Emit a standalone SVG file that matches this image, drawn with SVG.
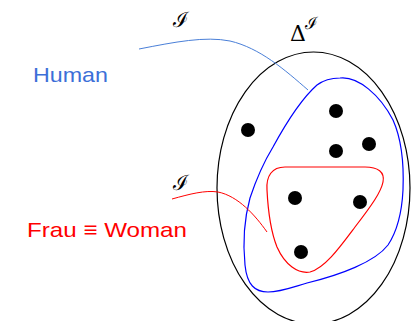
<svg xmlns="http://www.w3.org/2000/svg" width="413" height="321" viewBox="0 0 413 321">
<style>
.lbl{font-family:"Liberation Sans",Arial,sans-serif;font-size:21px}
.math{font-family:"DejaVu Serif","Liberation Serif",serif;fill:#000}
.dot{fill:#000}
</style>
<rect width="413" height="321" fill="#fff"/>
<g id="domain">
<ellipse cx="313.5" cy="188" rx="96.5" ry="136" fill="none" stroke="#000" stroke-width="1.2"/>
<text class="math" x="290" y="41" font-size="22">Δ</text>
<text class="math" x="305" y="29" font-size="17">ℐ</text>
</g>
<g id="human-set">
<path d="M340,78 C358,76 380,95 393,120 C402,140 404,165 403,190 C402,210 398,230 388,245 C375,262 340,275 307,283 C290,288 280,292 268,292 C255,292 247,285 245,265 C243,245 244,220 250,198 C256,180 262,165 273,147 C285,125 300,100 317,85 C325,79 333,78 340,78 Z" fill="none" stroke="#0000ff" stroke-width="1.2"/>
</g>
<g id="woman-set">
<path d="M285,167 L365,167 C378,167 385,172 383,182 C381,192 372,205 355,227 C340,247 325,268 310,272 C298,274 285,265 277,247 C271,232 268,210 267,190 C266,176 272,167 285,167 Z" fill="none" stroke="#ff0000" stroke-width="1.2"/>
</g>
<g id="elements">
<circle class="dot" cx="248" cy="130" r="7"/>
<circle class="dot" cx="336" cy="111" r="7"/>
<circle class="dot" cx="336" cy="151" r="7"/>
<circle class="dot" cx="369" cy="144" r="7"/>
<circle class="dot" cx="295" cy="198" r="7"/>
<circle class="dot" cx="360" cy="202" r="7"/>
<circle class="dot" cx="301" cy="252" r="7"/>
</g>
<g id="human-label">
<text class="lbl" x="33" y="82" fill="#3c6fd8" textLength="75" lengthAdjust="spacingAndGlyphs">Human</text>
</g>
<g id="woman-label">
<text class="lbl" x="27" y="237" fill="#ff0000" textLength="160" lengthAdjust="spacingAndGlyphs">Frau ≡ Woman</text>
</g>
<g id="connectors">
<path d="M139,49 C175,42 205,36 230,41 C260,48 285,70 308,90" fill="none" stroke="#4a7fd8" stroke-width="1"/>
<text class="math" x="173" y="27" font-size="21">ℐ</text>
<path d="M172,199 C190,194 205,190 218,192 C238,196 255,215 267,232" fill="none" stroke="#ff0000" stroke-width="1"/>
<text class="math" x="173" y="190" font-size="21">ℐ</text>
</g>
</svg>
